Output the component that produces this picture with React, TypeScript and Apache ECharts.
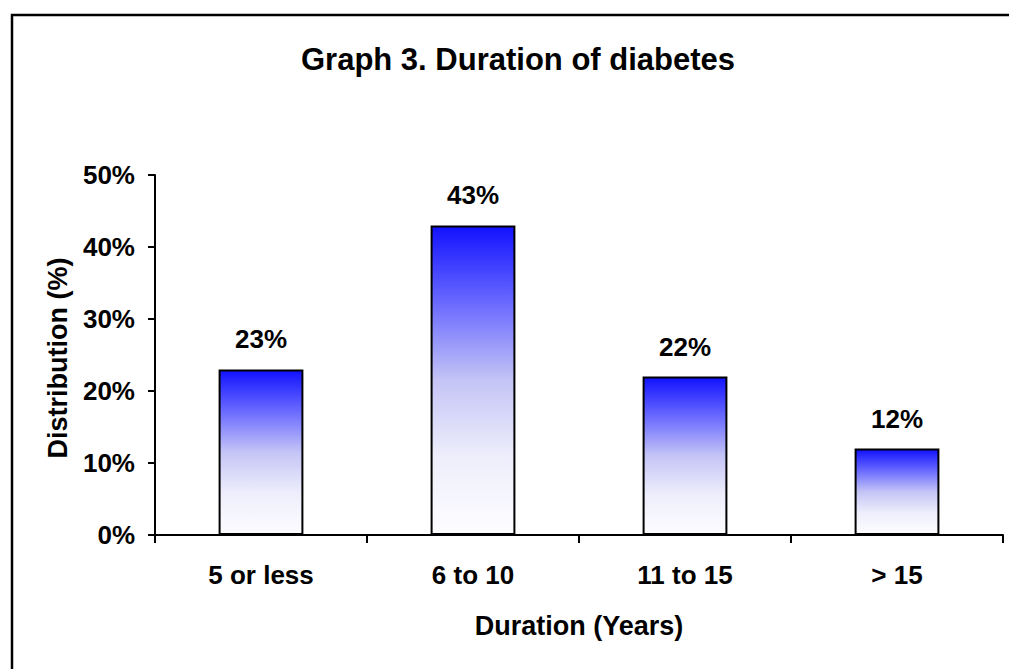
import React, { useEffect, useRef } from "react";
import * as echarts from "echarts";

// Duration-of-diabetes distribution
const categories = ["5 or less", "6 to 10", "11 to 15", "> 15"];
const shares = [23, 43, 22, 12];
const yTicks = [0, 10, 20, 30, 40, 50];

const FONT = "'Liberation Sans', Arial, sans-serif";

export default function App() {
  const ref = useRef<HTMLDivElement>(null);

  useEffect(() => {
    if (!ref.current) return;
    const chart = echarts.init(ref.current, null, { renderer: "svg" });

    const barFill = new echarts.graphic.LinearGradient(0, 0, 0, 1, [
      { offset: 0, color: "#1212ff" },
      { offset: 0.25, color: "#6a6aff" },
      { offset: 0.5, color: "#c4c4f6" },
      { offset: 0.75, color: "#eeeefc" },
      { offset: 1, color: "#fdfdff" },
    ]);

    chart.setOption({
      animation: false,
      backgroundColor: "#ffffff",
      title: {
        text: "Graph 3. Duration of diabetes",
        left: 513,
        top: 39,
        textAlign: "center",
        textStyle: { fontFamily: FONT, fontSize: 31, fontWeight: "bold", color: "#000" },
      },
      graphic: [
        {
          type: "rect",
          shape: { x: 12, y: 15, width: 1020, height: 700 },
          style: { fill: "none", stroke: "#000", lineWidth: 2.5 },
          silent: true,
        },
        {
          type: "text",
          x: 58,
          y: 358,
          rotation: Math.PI / 2,
          style: {
            text: "Distribution (%)",
            font: `bold 27px ${FONT}`,
            fill: "#000",
            align: "center",
            verticalAlign: "middle",
          },
        },
      ],
      grid: { left: 155, right: 6, top: 175, bottom: 134, containLabel: false },
      xAxis: {
        type: "category",
        data: categories,
        boundaryGap: true,
        name: "Duration (Years)",
        nameLocation: "middle",
        nameGap: 77,
        nameTextStyle: { fontFamily: FONT, fontSize: 27, fontWeight: "bold", color: "#000" },
        axisLine: { lineStyle: { color: "#000", width: 2 } },
        axisTick: { show: true, length: 8, alignWithLabel: false, lineStyle: { color: "#000", width: 2 } },
        axisLabel: { fontFamily: FONT, fontSize: 26, fontWeight: "bold", color: "#000", margin: 27 },
        splitLine: { show: false },
      },
      yAxis: {
        type: "value",
        min: yTicks[0],
        max: yTicks[yTicks.length - 1],
        interval: 10,
        axisLine: { show: true, lineStyle: { color: "#000", width: 2 } },
        axisTick: { show: true, length: 7, lineStyle: { color: "#000", width: 2 } },
        axisLabel: {
          fontFamily: FONT,
          fontSize: 26,
          fontWeight: "bold",
          color: "#000",
          margin: 20,
          formatter: (v: number) => `${v}%`,
        },
        splitLine: { show: false },
      },
      series: [
        {
          type: "bar",
          data: shares,
          barWidth: "40%",
          itemStyle: { color: barFill, borderColor: "#000", borderWidth: 2 },
          label: {
            show: true,
            position: "top",
            distance: 17,
            formatter: (p: any) => `${p.value}%`,
            fontFamily: FONT,
            fontSize: 26,
            fontWeight: "bold",
            color: "#000",
          },
        },
      ],
    });

    return () => chart.dispose();
  }, []);

  return (
    <div
      ref={ref}
      style={{ position: "fixed", left: 0, top: 0, width: 1009, height: 669, background: "#fff" }}
    />
  );
}
